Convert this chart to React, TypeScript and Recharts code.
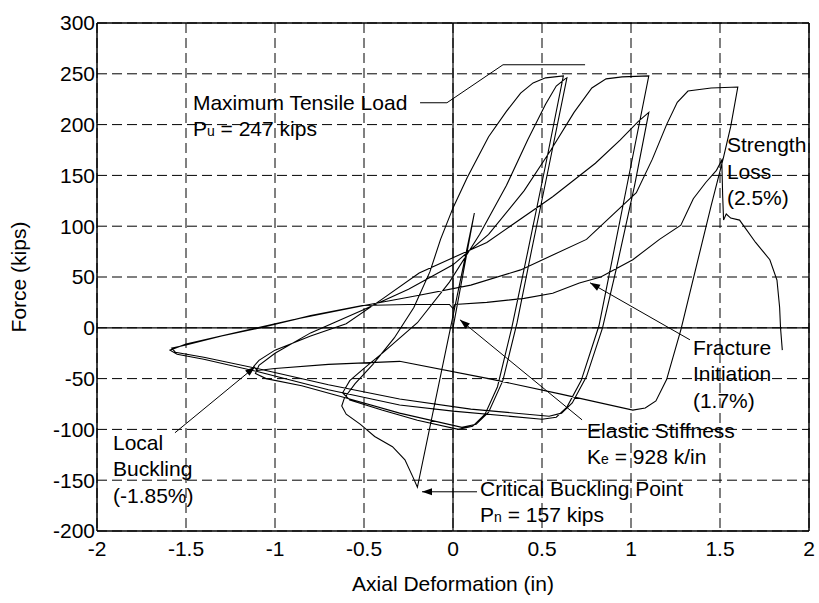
import React from 'react';
import {
  LineChart, Line, XAxis, YAxis, CartesianGrid, ReferenceLine, ReferenceDot, Label,
} from 'recharts';

const FONT = '"Liberation Sans", Arial, Helvetica, sans-serif';
const W = 819;
const H = 603;
const MARGIN = { top: 23, right: 10, left: 0, bottom: 0 };
const Y_AXIS_W = 97;
const X_AXIS_H = 72;
const X_DOMAIN: [number, number] = [-2, 2];
const Y_DOMAIN: [number, number] = [-200, 300];
// pixels per data unit, only used to orient arrowheads
const SX = (W - MARGIN.left - MARGIN.right - Y_AXIS_W) / (X_DOMAIN[1] - X_DOMAIN[0]);
const SY = (H - MARGIN.top - MARGIN.bottom - X_AXIS_H) / (Y_DOMAIN[1] - Y_DOMAIN[0]);

const xTicks = [-2, -1.5, -1, -0.5, 0, 0.5, 1, 1.5, 2];
const yTicks = [-200, -150, -100, -50, 0, 50, 100, 150, 200, 250, 300];

// axial deformation (in), force (kips) -- one array per loading cycle
const cycle1 = [
  [0, 0], [0.12, 113], [-0.2, -157], [-0.225, -147], [-0.27, -130], [-0.34, -117],
  [-0.44, -107], [-0.52, -95], [-0.6, -85], [-0.625, -77], [-0.61, -69],
];
const cycle2 = [
  [-0.55, -55], [-0.45, -36], [-0.33, -10], [-0.22, 20], [-0.13, 55], [-0.07, 87],
  [0, 118], [0.08, 148], [0.2, 188], [0.3, 213], [0.38, 231], [0.45, 241], [0.52, 246],
  [0.62, 248], [0.52, 160], [0.42, 75], [0.33, 0], [0.25, -58], [0.18, -85], [0.11, -97],
  [0.03, -100], [-0.2, -91], [-0.4, -81], [-0.58, -71], [-0.62, -64],
];
const cycle3 = [
  [-0.58, -52], [-0.5, -40], [-0.39, -24], [-0.2, 5], [-0.02, 45], [0.15, 92], [0.3, 140],
  [0.42, 185], [0.52, 220], [0.58, 238], [0.63, 245], [0.64, 246], [0.54, 160], [0.44, 75],
  [0.36, 5], [0.28, -52], [0.2, -83], [0.13, -95], [0.05, -98], [-0.3, -84], [-0.6, -69],
  [-0.85, -57], [-1.05, -50], [-1.11, -45], [-1.09, -37],
];
const cycle4 = [
  [-1.0, -25], [-0.8, -5], [-0.5, 18], [-0.25, 38], [0, 62], [0.2, 92], [0.4, 135],
  [0.55, 175], [0.68, 212], [0.78, 236], [0.86, 245], [0.95, 247], [1.1, 248], [1.0, 160],
  [0.9, 72], [0.82, 2], [0.72, -52], [0.64, -78], [0.58, -88], [0.5, -90], [0, -82],
  [-0.3, -76], [-0.7, -61], [-1.1, -43], [-1.4, -31], [-1.55, -26], [-1.59, -22],
];
const cycle5 = [
  [-1.5, -16], [-1.2, -4], [-0.9, 8], [-0.5, 22], [-0.19, 32], [0.1, 42], [0.38, 57],
  [0.75, 87], [1.03, 133], [1.12, 166], [1.2, 200], [1.26, 222], [1.32, 233], [1.45, 236],
  [1.6, 237], [1.56, 198], [1.52, 168], [1.45, 120], [1.39, 77], [1.28, -2], [1.2, -51],
  [1.14, -72], [1.08, -79], [1.01, -81], [0.6, -65], [0.2, -50], [-0.3, -33], [-0.7, -36],
  [-1.0, -40], [-1.1, -42], [-1.12, -38], [-1.09, -32],
];
const cycle6 = [
  [-1.0, -22], [-0.8, -8], [-0.6, 4], [-0.4, 28], [-0.19, 54], [0.19, 84], [0.56, 129],
  [0.8, 162], [0.94, 185], [1.04, 203], [1.1, 212], [1.02, 140], [0.92, 60], [0.84, 0],
  [0.75, -48], [0.67, -74], [0.61, -84], [0.54, -87], [0.1, -80], [-0.3, -70], [-0.7, -56],
  [-1.1, -40], [-1.4, -29], [-1.56, -24], [-1.58, -20],
];
const cycle7 = [
  [-1.5, -17], [-1.3, -8], [-1.08, 0], [-0.8, 12], [-0.51, 22], [-0.25, 23], [-0.02, 23],
  [0, 19], [0.01, 23], [0.19, 25], [0.4, 29], [0.56, 34], [0.71, 44], [0.83, 50],
  [1.01, 67], [1.16, 87], [1.28, 101], [1.35, 127], [1.42, 143], [1.48, 155], [1.51, 165],
  [1.515, 130], [1.52, 106], [1.535, 112], [1.56, 108], [1.61, 106], [1.7, 84], [1.78, 67],
  [1.82, 47], [1.835, 20], [1.84, 0], [1.85, -22],
];

const hysteresis = [cycle1, cycle2, cycle3, cycle4, cycle5, cycle6, cycle7]
  .flat()
  .map(([x, y]) => ({ x, y }));

type Pt = { x: number; y: number };
type TextLine = string | [string, string, string];

// annotation text blocks: anchor = left end of first baseline
const notes: { at: Pt; lines: TextLine[] }[] = [
  { at: { x: -1.461, y: 214.6 }, lines: ['Maximum Tensile Load', ['P', 'u', ' = 247 kips']] },
  { at: { x: 1.539, y: 173 }, lines: ['Strength', 'Loss', '(2.5%)'] },
  { at: { x: 1.348, y: -26.6 }, lines: ['Fracture', 'Initiation', '(1.7%)'] },
  { at: { x: 0.753, y: -108.3 }, lines: ['Elastic Stiffness', ['K', 'e', ' = 928 k/in']] },
  { at: { x: 0.152, y: -165.4 }, lines: ['Critical Buckling Point', ['P', 'n', ' = 157 kips']] },
  { at: { x: -1.91, y: -120 }, lines: ['Local', 'Buckling', '(-1.85%)'] },
];

const maxLoadLeader: Pt[] = [
  { x: -0.185, y: 221.5 }, { x: -0.034, y: 221.5 }, { x: 0.281, y: 258.9 }, { x: 0.742, y: 258.9 },
];

const arrows: { from: Pt; to: Pt }[] = [
  { from: { x: 1.331, y: -11.8 }, to: { x: 0.77, y: 44.3 } },
  { from: { x: 0.725, y: -90.6 }, to: { x: 0.039, y: 7.9 } },
  { from: { x: 0.135, y: -161.4 }, to: { x: -0.174, y: -161.4 } },
  { from: { x: -1.562, y: -103.3 }, to: { x: -1.112, y: -38.4 } },
];

const textShape = (lines: TextLine[]) => (props: any) => {
  const { cx, cy } = props;
  return (
    <text fontFamily={FONT} fontSize={21} fill="#000">
      {lines.map((ln, i) =>
        typeof ln === 'string' ? (
          <tspan key={i} x={cx} y={cy + i * 26.5}>{ln}</tspan>
        ) : (
          <tspan key={i} x={cx} y={cy + i * 26.5}>
            {ln[0]}
            <tspan fontSize={14}>{ln[1]}</tspan>
            {ln[2]}
          </tspan>
        ),
      )}
    </text>
  );
};

const arrowHead = (from: Pt, to: Pt) => (props: any) => {
  const { cx, cy } = props;
  const ang = (Math.atan2(-(to.y - from.y) * SY, (to.x - from.x) * SX) * 180) / Math.PI;
  return (
    <path
      d="M0,0 L-10,-3.5 L-10,3.5 Z"
      transform={`translate(${cx},${cy}) rotate(${ang})`}
      fill="#000"
    />
  );
};

const YTitle = (props: any) => {
  const vb = props.viewBox || { x: 0, y: MARGIN.top, width: Y_AXIS_W, height: H - MARGIN.top - X_AXIS_H };
  const cx = vb.x + 19;
  const cy = vb.y + vb.height / 2;
  return (
    <text
      x={cx}
      y={cy}
      dy="0.35em"
      textAnchor="middle"
      transform={`rotate(-90, ${cx}, ${cy})`}
      fontFamily={FONT}
      fontSize={21}
      fill="#000"
    >
      Force (kips)
    </text>
  );
};

const tickStyle = { fill: '#000', fontSize: 21, fontFamily: FONT };

export default function App() {
  return (
    <div style={{ position: 'absolute', left: 0, top: 0, width: W, height: H, background: '#fff' }}>
      <LineChart width={W} height={H} margin={MARGIN}>
        <CartesianGrid stroke="#000" strokeDasharray="10 5" strokeWidth={1} />
        <XAxis
          type="number"
          dataKey="x"
          domain={X_DOMAIN}
          ticks={xTicks}
          interval={0}
          allowDataOverflow
          height={X_AXIS_H}
          tick={tickStyle}
          tickLine={false}
          tickSize={0}
          tickMargin={10}
          axisLine={{ stroke: '#000', strokeWidth: 1.5 }}
        >
          <Label
            value="Axial Deformation (in)"
            position="insideBottom"
            offset={12}
            fill="#000"
            fontSize={21}
            fontFamily={FONT}
          />
        </XAxis>
        <YAxis
          type="number"
          domain={Y_DOMAIN}
          ticks={yTicks}
          interval={0}
          allowDataOverflow
          width={Y_AXIS_W}
          tick={tickStyle}
          tickLine={false}
          tickSize={0}
          tickMargin={2}
          axisLine={{ stroke: '#000', strokeWidth: 1.5 }}
        >
          <Label content={YTitle} />
        </YAxis>

        {/* zero axes and plot frame */}
        <ReferenceLine x={0} stroke="#000" strokeWidth={1.2} />
        <ReferenceLine y={0} stroke="#000" strokeWidth={1.2} />
        <ReferenceLine x={2} stroke="#000" strokeWidth={1.5} />
        <ReferenceLine y={300} stroke="#000" strokeWidth={1.5} />

        <Line
          data={hysteresis}
          dataKey="y"
          type="linear"
          stroke="#000"
          strokeWidth={1.1}
          dot={false}
          activeDot={false}
          isAnimationActive={false}
        />

        {maxLoadLeader.slice(1).map((p, i) => (
          <ReferenceLine
            key={`ml${i}`}
            segment={[maxLoadLeader[i], p]}
            stroke="#000"
            strokeWidth={1}
          />
        ))}
        {arrows.map((a, i) => (
          <ReferenceLine key={`al${i}`} segment={[a.from, a.to]} stroke="#000" strokeWidth={1} />
        ))}
        {arrows.map((a, i) => (
          <ReferenceDot key={`ah${i}`} x={a.to.x} y={a.to.y} r={1} shape={arrowHead(a.from, a.to)} />
        ))}
        {notes.map((n, i) => (
          <ReferenceDot key={`n${i}`} x={n.at.x} y={n.at.y} r={1} shape={textShape(n.lines)} />
        ))}
      </LineChart>
    </div>
  );
}
